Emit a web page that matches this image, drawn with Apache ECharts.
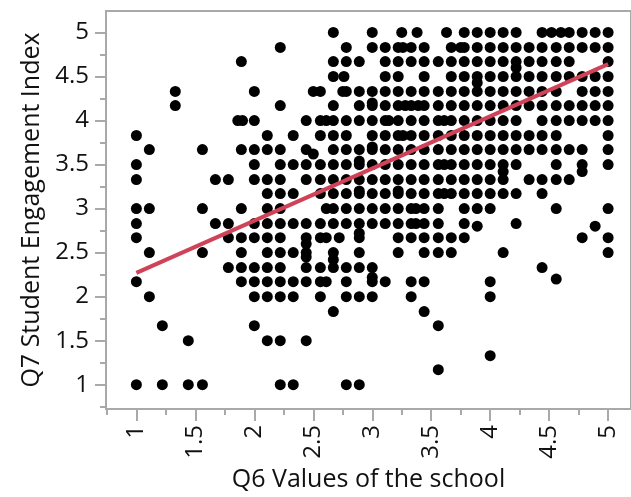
<!DOCTYPE html>
<html><head><meta charset="utf-8">
<script src="https://cdn.jsdelivr.net/npm/echarts@6/dist/echarts.min.js"></script>
<style>html,body{margin:0;padding:0;background:#fff}#c{width:631px;height:497px}</style>
</head><body><div id="c"></div>
<script>
// Q6 (x) values present in each Q7 (y) row
const x_500 = [2.67, 3, 3.25, 3.38, 3.63, 3.78, 3.89, 4, 4.11, 4.22, 4.44, 4.52, 4.6, 4.67, 4.78, 4.89, 5];
const x_483 = [2.22, 2.78, 3, 3.11, 3.22, 3.26, 3.33, 3.44, 3.67, 3.75, 3.78, 3.89, 4, 4.11, 4.22, 4.33, 4.44, 4.56, 4.67, 4.78, 4.89, 5];
const x_467 = [1.89, 2.67, 2.78, 2.89, 3.11, 3.22, 3.33, 3.44, 3.56, 3.67, 3.78, 3.89, 4, 4.11, 4.22, 4.33, 4.44, 4.56, 4.67, 5];
const x_450 = [2.67, 2.76, 3.11, 3.22, 3.44, 3.67, 3.78, 3.89, 4, 4.11, 4.22, 4.33, 4.44, 4.56, 4.67, 4.78, 4.89, 5];
const x_433 = [1.33, 2, 2.5, 2.56, 2.75, 2.78, 2.89, 3, 3.11, 3.22, 3.33, 3.44, 3.56, 3.67, 3.78, 3.89, 4, 4.11, 4.22, 4.33, 4.44, 4.56, 4.78, 4.89, 5];
const x_417 = [1.33, 2.22, 2.67, 2.89, 3, 3.11, 3.22, 3.28, 3.33, 3.39, 3.44, 3.56, 3.67, 3.78, 3.89, 4, 4.11, 4.22, 4.33, 4.44, 4.56, 4.67, 4.78, 4.89, 5];
const x_400 = [1.86, 1.9, 2, 2.44, 2.56, 2.61, 2.67, 2.78, 2.89, 3, 3.11, 3.14, 3.22, 3.33, 3.44, 3.56, 3.61, 3.67, 3.78, 3.89, 4, 4.11, 4.22, 4.44, 4.56, 4.67, 4.78, 4.89, 5];
const x_383 = [1, 2.11, 2.33, 2.56, 2.67, 2.78, 3, 3.11, 3.22, 3.26, 3.33, 3.44, 3.56, 3.67, 3.78, 3.89, 4, 4.11, 4.22, 4.33, 4.44, 4.56, 5];
const x_367 = [1.11, 1.56, 1.89, 2, 2.11, 2.22, 2.44, 2.67, 2.78, 2.89, 3, 3.11, 3.22, 3.33, 3.44, 3.56, 3.67, 3.78, 3.89, 4, 4.11, 4.22, 4.33, 4.44, 4.56, 4.67, 4.78, 5];
const x_350 = [1, 2, 2.22, 2.33, 2.44, 2.56, 2.67, 2.78, 2.89, 3, 3.11, 3.22, 3.33, 3.44, 3.56, 3.61, 3.67, 3.78, 3.89, 4, 4.11, 4.22, 4.56, 4.78, 5];
const x_333 = [1, 1.67, 1.78, 2, 2.11, 2.22, 2.44, 2.56, 2.67, 2.78, 2.89, 3, 3.11, 3.22, 3.33, 3.44, 3.56, 3.67, 3.78, 3.89, 4, 4.11, 4.33, 4.44, 4.56, 4.67];
const x_317 = [2.11, 2.22, 2.33, 2.56, 2.67, 2.78, 2.89, 3, 3.11, 3.22, 3.33, 3.44, 3.56, 3.61, 3.67, 3.78, 3.89, 4, 4.11, 4.22, 4.44];
const x_300 = [1, 1.11, 1.56, 1.89, 2.11, 2.22, 2.61, 2.67, 2.78, 2.89, 3, 3.11, 3.22, 3.33, 3.37, 3.44, 3.56, 3.78, 3.89, 4, 4.56, 5];
const x_283 = [1, 1.67, 1.78, 2, 2.11, 2.22, 2.33, 2.44, 2.56, 2.67, 2.78, 2.89, 3, 3.11, 3.22, 3.33, 3.37, 3.44, 3.56, 3.78, 4.22];
const x_267 = [1, 1.78, 1.89, 2, 2.11, 2.22, 2.44, 2.56, 2.61, 2.72, 2.89, 3.22, 3.33, 3.44, 3.56, 3.67, 3.78, 4.78, 5];
const x_250 = [1.11, 1.56, 1.89, 2.11, 2.22, 2.33, 2.44, 2.67, 2.89, 3.22, 3.44, 3.56, 3.67, 4.11, 5];
const x_233 = [1.78, 1.89, 2, 2.11, 2.22, 2.44, 2.56, 2.67, 2.78, 2.89, 3, 4.44];
const x_217 = [1, 1.89, 2, 2.11, 2.22, 2.33, 2.44, 2.56, 2.61, 2.78, 3, 3.11, 3.33, 3.44, 4];
const x_200 = [1.11, 2, 2.11, 2.22, 2.33, 2.56, 2.78, 2.89, 3, 3.33, 4];
const x_183 = [2.67, 3.44];
const x_167 = [1.22, 2, 3.56];
const x_150 = [1.44, 2.11, 2.22, 2.44];
const x_133 = [4];
const x_117 = [3.56];
const x_100 = [1, 1.22, 1.44, 1.56, 2.22, 2.33, 2.78, 2.89];

const rowY = [5, 4.83, 4.67, 4.5, 4.33, 4.17, 4, 3.83, 3.67, 3.5, 3.33, 3.17, 3, 2.83, 2.67, 2.5, 2.33, 2.17, 2, 1.83, 1.67, 1.5, 1.33, 1.17, 1];
const rowX = [x_500, x_483, x_467, x_450, x_433, x_417, x_400, x_383, x_367, x_350, x_333, x_317, x_300, x_283, x_267, x_250, x_233, x_217, x_200, x_183, x_167, x_150, x_133, x_117, x_100];

// points that sit off the main grid
const extraPts = [[3.89, 4.43], [4.22, 4.6], [3, 4.2], [2.5, 3.62], [3, 3.7], [2.89, 3.54], [4.11, 3.42], [4.78, 3.42], [2.89, 3.2], [3.22, 3.2], [3.89, 2.8], [4.89, 2.8], [2.44, 2.6], [2.89, 2.72], [2.44, 2.45], [2.67, 2.42], [3, 2.22], [4.56, 2.2]];

// linear fit line end points
const fitX = [1, 5];
const fitY = [2.27, 4.64];

const majorTicks = [1, 1.5, 2, 2.5, 3, 3.5, 4, 4.5, 5];
const minorTicks = [0.75, 1.25, 1.75, 2.25, 2.75, 3.25, 3.75, 4.25, 4.75];
const xTitle = 'Q6 Values of the school';
const yTitle = 'Q7 Student Engagement Index';

const points = [];
rowY.forEach((y, k) => rowX[k].forEach(x => points.push([x, y])));
extraPts.forEach(p => points.push(p));
const fitLine = fitX.map((x, k) => [x, fitY[k]]);

const AX = '#a9a9a9';
const FONT = 'Open Sans';
const X_MIN = 0.7423, X_MAX = 5.194, Y_MIN = 0.724, Y_MAX = 5.244;

const chart = echarts.init(document.getElementById('c'), null, {renderer: 'canvas'});
chart.setOption({
  animation: false,
  grid: {left: 106, right: -2, top: 11, bottom: 82, show: true, borderColor: AX, borderWidth: 2, backgroundColor: 'transparent'},
  xAxis: [
    {type: 'value', min: X_MIN, max: X_MAX, position: 'bottom',
     axisLine: {show: true, onZero: false, lineStyle: {color: AX, width: 2}},
     axisTick: {show: true, customValues: majorTicks, length: 12, lineStyle: {color: AX, width: 2}},
     axisLabel: {customValues: majorTicks, rotate: 90, margin: 16, fontSize: 24, fontFamily: FONT, color: '#111', formatter: v => String(v)},
     splitLine: {show: false},
     name: xTitle, nameLocation: 'middle', nameGap: 58,
     nameTextStyle: {fontSize: 25, fontFamily: FONT, color: '#111'}},
    {type: 'value', min: X_MIN, max: X_MAX, position: 'bottom',
     axisLine: {show: false}, axisTick: {show: true, customValues: minorTicks, length: 6, lineStyle: {color: AX, width: 2}},
     axisLabel: {show: false}, splitLine: {show: false}}
  ],
  yAxis: [
    {type: 'value', min: Y_MIN, max: Y_MAX, position: 'left',
     axisLine: {show: true, onZero: false, lineStyle: {color: AX, width: 2}},
     axisTick: {show: true, customValues: majorTicks, length: 11, lineStyle: {color: AX, width: 2}},
     axisLabel: {customValues: majorTicks, margin: 17, fontSize: 24, fontFamily: FONT, color: '#111', formatter: v => String(v)},
     splitLine: {show: false},
     name: yTitle, nameLocation: 'middle', nameGap: 58,
     nameTextStyle: {fontSize: 25, fontFamily: FONT, color: '#111'}},
    {type: 'value', min: Y_MIN, max: Y_MAX, position: 'left',
     axisLine: {show: false}, axisTick: {show: true, customValues: minorTicks, length: 6, lineStyle: {color: AX, width: 2}},
     axisLabel: {show: false}, splitLine: {show: false}}
  ],
  series: [
    {type: 'scatter', xAxisIndex: 0, yAxisIndex: 0, data: points, symbol: 'circle', symbolSize: 11,
     itemStyle: {color: '#000', opacity: 1}, emphasis: {disabled: true}, silent: true, z: 2},
    {type: 'line', xAxisIndex: 0, yAxisIndex: 0, data: fitLine, symbol: 'none',
     lineStyle: {color: '#cf4257', width: 4, opacity: 1}, silent: true, z: 3}
  ]
});
</script></body></html>
